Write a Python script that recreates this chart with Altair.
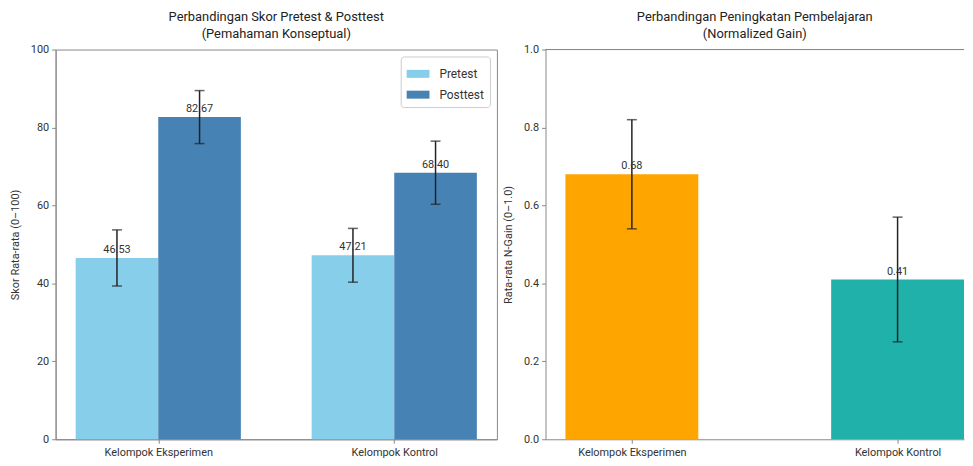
import altair as alt
import pandas as pd

FONT = "Roboto"

# ---- data ----
groups = ["Kelompok Eksperimen", "Kelompok Kontrol"]
tests = ["Pretest", "Posttest"]
pre_means = [46.53, 47.21]
pre_err = [7.2, 6.9]
post_means = [82.67, 68.40]
post_err = [6.8, 8.1]

gain_means = [0.68, 0.41]
gain_err = [0.14, 0.16]
gain_colors = ["#FFA500", "#20B2AA"]

test_colors = ["#87CEEB", "#4682B4"]

# ---- tables ----
rows = []
for i, g in enumerate(groups):
    rows.append({"idx": i, "group": g, "test": "Pretest", "off": -1, "value": pre_means[i], "err": pre_err[i]})
    rows.append({"idx": i, "group": g, "test": "Posttest", "off": 0, "value": post_means[i], "err": post_err[i]})
df1 = pd.DataFrame(rows)

df2 = pd.DataFrame({"idx": list(range(len(groups))), "group": groups,
                    "value": gain_means, "err": gain_err})

label_expr = " : ".join(
    [f"datum.value == {i} ? '{g}'" for i, g in enumerate(groups)]) + " : ''"

W1, W2, H = 445, 422, 393
BW1 = 0.35
BW2 = 0.5

# ---- left panel ----
base1 = alt.Chart(df1).transform_calculate(
    x0=f"datum.idx + datum.off * {BW1}",
    x1=f"datum.idx + datum.off * {BW1} + {BW1}",
    xc=f"datum.idx + datum.off * {BW1} + {BW1 / 2}",
    lo="datum.value - datum.err",
    hi="datum.value + datum.err",
    lbl="format(datum.value, '.2f')",
)
xs1 = alt.Scale(domain=[-0.435, 1.435], nice=False, zero=False)
ys1 = alt.Scale(domain=[0, 100], nice=False)

bars1 = base1.mark_bar().encode(
    x=alt.X("x0:Q", scale=xs1,
            axis=alt.Axis(values=[0, 1], labelExpr=label_expr, title=None, labelFlush=False)),
    x2="x1:Q",
    y=alt.Y("value:Q", scale=ys1,
            axis=alt.Axis(values=[0, 20, 40, 60, 80, 100], title="Skor Rata-rata (0–100)")),
    y2=alt.datum(0),
    color=alt.Color("test:N", scale=alt.Scale(domain=tests, range=test_colors),
                    legend=alt.Legend(title=None, orient="top-right", offset=7)),
)
err1 = base1.mark_rule(color="#222", strokeWidth=1.5).encode(
    x="xc:Q", y="lo:Q", y2="hi:Q")
caplo1 = base1.mark_tick(orient="horizontal", size=10, thickness=1.5, color="#222").encode(
    x="xc:Q", y="lo:Q")
caphi1 = base1.mark_tick(orient="horizontal", size=10, thickness=1.5, color="#222").encode(
    x="xc:Q", y="hi:Q")
text1 = base1.mark_text(baseline="bottom", dy=-3, fontSize=11, color="#333", font=FONT).encode(
    x="xc:Q", y="value:Q", text="lbl:N")

left = alt.layer(bars1, err1, caplo1, caphi1, text1).properties(
    width=W1, height=H,
    title=alt.TitleParams(["Perbandingan Skor Pretest & Posttest", "(Pemahaman Konseptual)"]),
    view=alt.ViewBackground(stroke="#888"),
)

# ---- right panel ----
base2 = alt.Chart(df2).transform_calculate(
    x0=f"datum.idx - {BW2 / 2}",
    x1=f"datum.idx + {BW2 / 2}",
    lo="datum.value - datum.err",
    hi="datum.value + datum.err",
    lbl="format(datum.value, '.2f')",
)
xs2 = alt.Scale(domain=[-0.325, 1.25], nice=False, zero=False)
ys2 = alt.Scale(domain=[0, 1.0], nice=False)

bars2 = base2.mark_bar().encode(
    x=alt.X("x0:Q", scale=xs2,
            axis=alt.Axis(values=[0, 1], labelExpr=label_expr, title=None, labelFlush=False)),
    x2="x1:Q",
    y=alt.Y("value:Q", scale=ys2,
            axis=alt.Axis(values=[0, 0.2, 0.4, 0.6, 0.8, 1.0], format=".1f",
                          title="Rata-rata N-Gain (0–1.0)")),
    y2=alt.datum(0),
    color=alt.Color("group:N", scale=alt.Scale(domain=groups, range=gain_colors), legend=None),
)
err2 = base2.mark_rule(color="#222", strokeWidth=1.5).encode(
    x="idx:Q", y="lo:Q", y2="hi:Q")
caplo2 = base2.mark_tick(orient="horizontal", size=10, thickness=1.5, color="#222").encode(
    x="idx:Q", y="lo:Q")
caphi2 = base2.mark_tick(orient="horizontal", size=10, thickness=1.5, color="#222").encode(
    x="idx:Q", y="hi:Q")
text2 = base2.mark_text(baseline="bottom", dy=-3, fontSize=11, color="#333", font=FONT).encode(
    x="idx:Q", y="value:Q", text="lbl:N")
topline = alt.Chart(df2).mark_rule(color="#888", strokeWidth=1).encode(
    x=alt.value(0), x2=alt.value(W2), y=alt.value(0))

right = alt.layer(bars2, err2, caplo2, caphi2, text2, topline).properties(
    width=W2, height=H,
    title=alt.TitleParams(["Perbandingan Peningkatan Pembelajaran", "(Normalized Gain)"]),
    view=alt.ViewBackground(stroke=None),
)

chart = alt.hconcat(left, right, spacing=4).resolve_scale(
    color="independent", x="independent", y="independent"
).properties(
    padding={"left": 0, "top": 0, "right": 0, "bottom": 0}
).configure(font=FONT).configure_title(
    fontSize=13, fontWeight="normal", color="#222", lineHeight=17, offset=3, font=FONT
).configure_axis(
    labelFontSize=11, labelColor="#333", titleFontSize=11, titleColor="#333",
    titleFontWeight="normal", domainColor="#888", tickColor="#888", tickSize=4,
    labelPadding=3, titlePadding=10, grid=False, labelFont=FONT, titleFont=FONT,
).configure_legend(
    labelFontSize=12, labelColor="#333", labelFont=FONT,
    symbolType="M-1,-0.35L1,-0.35L1,0.35L-1,0.35Z", symbolSize=529, symbolStrokeWidth=0,
    symbolOpacity=1, strokeColor="#ccc", fillColor="white", padding=6, cornerRadius=3,
    rowPadding=3, labelOffset=10,
)

chart.save("out.html", embed_options={"renderer": "svg", "actions": False})
